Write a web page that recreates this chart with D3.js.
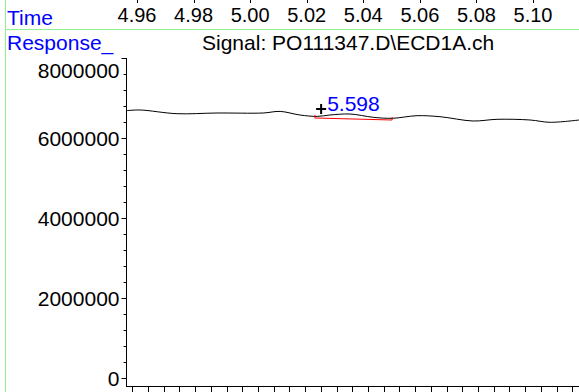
<!DOCTYPE html>
<html><head><meta charset="utf-8">
<script src="https://cdn.jsdelivr.net/npm/d3@7"></script>
<style>
html,body{margin:0;padding:0;background:#fff;}
svg{display:block;font-family:"Liberation Sans",Arial,sans-serif;}
</style></head>
<body>
<svg id="c" width="579" height="392"></svg>
<script>
// ---- data ----
const timeTicks = [4.96, 4.98, 5.00, 5.02, 5.04, 5.06, 5.08, 5.10];
const responseTicks = [0, 2000000, 4000000, 6000000, 8000000];
const signalTime = [4.9561, 4.9611, 4.9741, 4.9883, 5.0046, 5.0106, 5.0176, 5.0237, 5.0282, 5.0353, 5.0435, 5.0502, 5.0590, 5.0671, 5.0788, 5.0873, 5.0990, 5.1060, 5.1163];
const signalResponse = [6682500, 6700000, 6607500, 6625000, 6625000, 6665000, 6575000, 6540000, 6575000, 6600000, 6517500, 6492500, 6557500, 6532500, 6425000, 6467500, 6450000, 6392500, 6450000];
const peakTimeLabel = "5.598";
const peakMarker = [5.0251, 6725000];
const peakBaselineTime = [5.0229, 5.0502];
const peakBaselineResponse = [6500000, 6450000];
const signalTitle = "Signal: PO111347.D\\ECD1A.ch";

// ---- scales ----
const x = d3.scaleLinear().domain([4.96, 5.10]).range([137, 533]);
const y = d3.scaleLinear().domain([0, 8000000]).range([378, 58]);
const svg = d3.select("#c");
const green = "#8ef08e";

// frame lines
svg.append("line").attr("x1", 5.5).attr("x2", 5.5).attr("y1", 0).attr("y2", 392).attr("stroke", green);
svg.append("line").attr("x1", 5.5).attr("x2", 579).attr("y1", 29.5).attr("y2", 29.5).attr("stroke", green);

// top time axis
const topAxis = svg.append("g");
topAxis.selectAll("line").data(timeTicks).join("line")
  .attr("x1", d => Math.round(x(d)) + 0.5).attr("x2", d => Math.round(x(d)) + 0.5)
  .attr("y1", 0).attr("y2", 3).attr("stroke", "#000");
topAxis.selectAll("text").data(timeTicks).join("text")
  .attr("x", d => x(d)).attr("y", 22).attr("text-anchor", "middle")
  .attr("font-size", 20).attr("fill", "#000").text(d => d.toFixed(2));
svg.append("text").attr("x", 7).attr("y", 25).attr("font-size", 21).attr("fill", "#0000ff").text("Time");
svg.append("text").attr("x", 7).attr("y", 50).attr("font-size", 21).attr("fill", "#0000ff").text("Response_");
svg.append("text").attr("x", 202).attr("y", 50).attr("font-size", 21).attr("fill", "#000").text(signalTitle);

// y axis
const yAxis = svg.append("g").attr("transform", "translate(126.5,0)")
  .call(d3.axisLeft(y).tickValues(responseTicks).tickSize(5).tickPadding(2).tickFormat(d3.format("d")));
yAxis.select(".domain").remove();
yAxis.selectAll("text").attr("font-size", 21).attr("font-family", "Liberation Sans, Arial, sans-serif")
  .attr("fill", "#000").attr("dy", d => d === 8000000 ? "0.95em" : "0.36em");
const yMinor = d3.range(0, 8000001, 400000).filter(v => v % 2000000 !== 0);
yAxis.selectAll("line.minor").data(yMinor).join("line").attr("class", "minor")
  .attr("x1", -3).attr("x2", 0).attr("y1", d => Math.round(y(d)) + 0.5).attr("y2", d => Math.round(y(d)) + 0.5)
  .attr("stroke", "#000");
svg.append("line").attr("x1", 126.5).attr("x2", 126.5).attr("y1", 58).attr("y2", 386.5).attr("stroke", "#000");

// bottom axis
svg.append("line").attr("x1", 126).attr("x2", 579).attr("y1", 386.5).attr("y2", 386.5).attr("stroke", "#000");
const bottomTicks = d3.range(4.95833, 5.118, 1 / 180);
svg.append("g").selectAll("line").data(bottomTicks).join("line")
  .attr("x1", d => Math.round(x(d)) + 0.5).attr("x2", d => Math.round(x(d)) + 0.5)
  .attr("y1", 386).attr("y2", 392).attr("stroke", "#000");

// signal
const pts = signalTime.map((t, i) => [t, signalResponse[i]]);
svg.append("path").datum(pts)
  .attr("d", d3.line().x(d => x(d[0])).y(d => y(d[1])).curve(d3.curveCatmullRom))
  .attr("fill", "none").attr("stroke", "#000").attr("stroke-width", 1);

// peak baseline (red)
const bx0 = x(peakBaselineTime[0]), bx1 = x(peakBaselineTime[1]);
const by0 = y(peakBaselineResponse[0]), by1 = y(peakBaselineResponse[1]);
svg.append("path")
  .attr("d", `M${bx0},${by0 - 3}L${bx0},${by0}L${bx1},${by1}L${bx1},${by1 - 3}`)
  .attr("fill", "none").attr("stroke", "#ff0000").attr("stroke-width", 1);

// peak marker + label
const mx = x(peakMarker[0]), my = y(peakMarker[1]);
svg.append("path").attr("d", `M${mx - 5},${my}H${mx + 5}M${mx},${my - 5}V${my + 5}`)
  .attr("stroke", "#000").attr("stroke-width", 2);
svg.append("text").attr("x", mx + 6).attr("y", my + 2).attr("font-size", 21).attr("fill", "#0000ff").text(peakTimeLabel);
</script>
</body></html>
